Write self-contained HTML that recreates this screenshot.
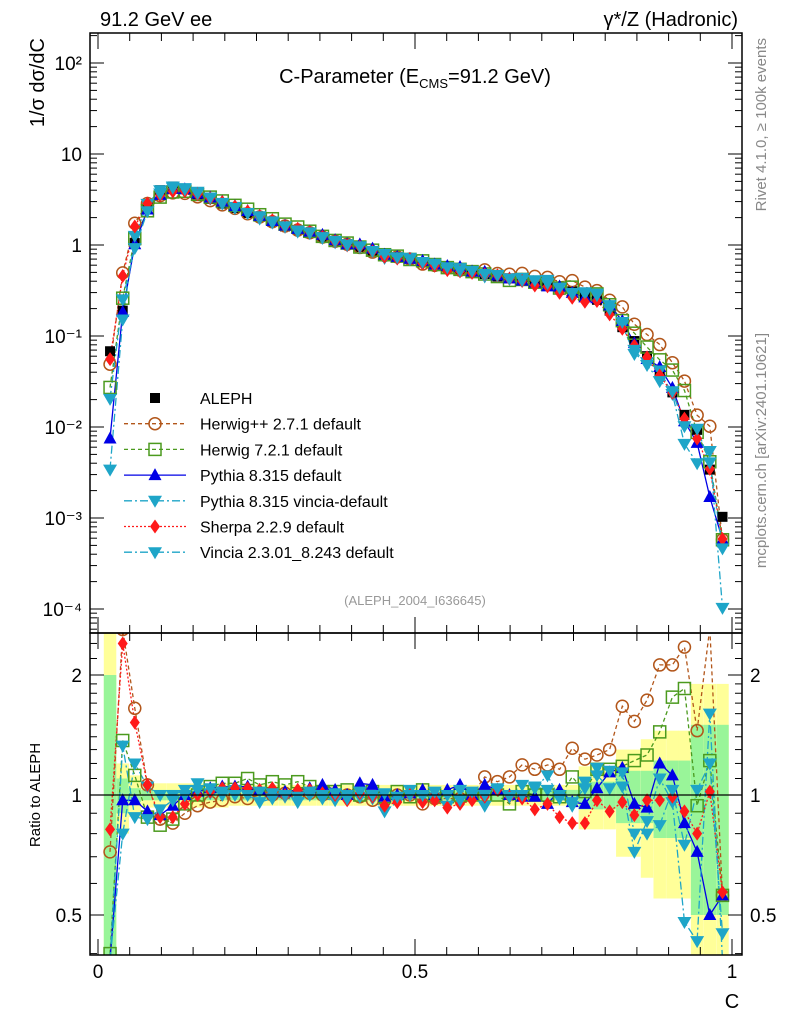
<!DOCTYPE html>
<html><head><meta charset="utf-8"><style>
html,body{margin:0;padding:0;background:#fff;width:786px;height:1024px;overflow:hidden}
svg{display:block;font-family:"Liberation Sans",sans-serif}
</style></head><body>
<svg id="chart" width="786" height="1024" viewBox="0 0 786 1024">
<defs>
<clipPath id="clipMain"><rect x="90" y="33" width="652" height="600"/></clipPath>
<clipPath id="clipRatio"><rect x="90" y="633" width="652" height="322"/></clipPath>
</defs>
<g id="bands" clip-path="url(#clipRatio)"></g>
<g id="ratioMarks" clip-path="url(#clipRatio)"></g>
<g id="mainMarks" clip-path="url(#clipMain)"></g>
<g id="axes"></g>
<text x="100" y="26" font-size="20">91.2 GeV ee</text>
<text x="738" y="26" font-size="20" text-anchor="end">γ*/Z (Hadronic)</text>
<text x="415" y="83" font-size="20" text-anchor="middle">C-Parameter (E<tspan font-size="13" dy="5">CMS</tspan><tspan dy="-5">=91.2 GeV)</tspan></text>
<text transform="translate(44,38) rotate(-90)" font-size="20" text-anchor="end">1/σ  dσ/dC</text>
<text transform="translate(40,795) rotate(-90)" font-size="15" text-anchor="middle">Ratio to ALEPH</text>
<text transform="translate(766,38) rotate(-90)" font-size="15" fill="#888" text-anchor="end">Rivet 4.1.0, ≥ 100k events</text>
<text transform="translate(766,333) rotate(-90)" font-size="15" fill="#888" text-anchor="end">mcplots.cern.ch [arXiv:2401.10621]</text>
<text x="415" y="605" font-size="13" fill="#999" text-anchor="middle">(ALEPH_2004_I636645)</text>
<text x="732" y="1008" font-size="20" text-anchor="middle">C</text>
<g id="legend"></g>
</svg>
<script>
const centers=[0.019,0.039,0.058,0.078,0.098,0.118,0.137,0.157,0.177,0.196,0.216,0.236,0.255,0.275,0.295,0.315,0.334,0.354,0.374,0.393,0.413,0.433,0.452,0.472,0.492,0.512,0.531,0.551,0.571,0.590,0.610,0.630,0.649,0.669,0.689,0.709,0.728,0.748,0.768,0.787,0.807,0.827,0.846,0.866,0.886,0.906,0.925,0.945,0.965,0.985];
const aleph=[0.068,0.19,1.05,2.7,4.0,4.4,4.1,3.6,3.2,2.85,2.55,2.25,2.03,1.8,1.6,1.46,1.35,1.22,1.1,1.02,0.95,0.86,0.79,0.74,0.7,0.65,0.61,0.57,0.54,0.51,0.48,0.45,0.43,0.41,0.39,0.37,0.34,0.31,0.28,0.25,0.19,0.125,0.088,0.06,0.038,0.024,0.0136,0.0093,0.0034,0.00103];
const totErr=[2.0,0.2,0.12,0.07,0.07,0.07,0.07,0.07,0.07,0.07,0.06,0.06,0.06,0.06,0.06,0.06,0.06,0.06,0.06,0.06,0.06,0.06,0.06,0.06,0.06,0.06,0.06,0.06,0.06,0.06,0.06,0.06,0.06,0.06,0.06,0.06,0.06,0.06,0.18,0.18,0.18,0.3,0.3,0.38,0.45,0.45,0.45,0.9,0.9,0.9];
const statErr=[1.0,0.1,0.04,0.03,0.03,0.03,0.03,0.03,0.03,0.03,0.03,0.03,0.03,0.03,0.03,0.03,0.03,0.03,0.03,0.03,0.03,0.03,0.03,0.03,0.03,0.03,0.03,0.03,0.03,0.03,0.03,0.03,0.03,0.03,0.03,0.03,0.03,0.03,0.08,0.08,0.08,0.15,0.15,0.15,0.22,0.22,0.22,0.5,0.5,0.5];
const rHpp=[0.72,2.6,1.65,1.06,0.87,0.85,0.9,0.94,0.96,0.97,0.99,0.98,1.0,1.0,1.01,1.0,1.01,1.0,1.0,1.0,0.99,0.97,0.97,1.0,1.0,0.95,0.98,0.98,0.98,1.0,1.11,1.08,1.11,1.19,1.16,1.19,1.16,1.31,1.23,1.26,1.30,1.67,1.53,1.73,2.12,2.12,2.35,1.45,3.0,0.56];
const rH7=[0.4,1.37,1.12,0.88,0.84,0.87,0.95,1.0,1.05,1.07,1.07,1.1,1.06,1.08,1.06,1.08,1.05,1.02,1.02,1.03,1.0,1.02,0.99,1.02,0.99,1.03,1.0,0.99,1.0,1.0,1.0,1.0,0.95,1.02,1.0,1.0,0.99,1.11,1.02,1.16,1.16,1.18,1.22,1.26,1.44,1.76,1.85,0.94,1.22,0.56];
const rPy=[0.11,0.97,0.97,0.91,0.89,0.94,1.0,1.02,1.04,1.05,1.05,1.05,1.03,1.02,1.02,1.03,1.04,1.06,1.03,1.0,1.07,1.06,0.99,1.0,1.01,1.03,1.0,1.03,1.06,1.0,1.06,1.03,1.0,0.99,0.99,0.95,1.03,0.96,0.95,1.04,1.14,1.17,0.95,0.93,1.2,1.12,0.85,0.72,0.5,0.56];
const rPv=[0.05,0.8,1.2,1.05,1.0,1.0,1.03,1.07,1.01,1.0,1.03,1.0,0.96,0.98,0.99,0.96,1.0,0.98,0.97,1.0,0.99,0.98,0.91,0.96,1.03,0.99,0.97,0.94,1.03,1.0,0.94,1.03,1.0,1.06,1.04,1.12,0.98,0.96,1.04,1.17,1.15,1.05,0.72,0.86,1.1,0.96,0.48,0.43,1.6,0.1];
const rSh=[0.82,2.4,1.52,1.06,0.88,0.88,0.95,1.0,1.02,1.04,1.04,1.04,1.03,1.04,1.0,1.03,1.03,1.01,1.0,0.97,1.01,0.99,0.94,0.96,1.0,0.96,0.97,0.93,0.95,0.97,0.99,1.03,0.99,0.98,0.92,0.95,0.88,0.85,0.85,0.97,0.91,0.96,0.89,0.97,0.97,0.99,0.91,0.8,1.02,0.57];
const rVin=[0.3,1.33,0.88,0.87,0.92,0.97,1.0,1.03,1.04,1.02,1.0,1.0,1.02,1.01,1.0,0.99,1.02,1.0,1.01,0.98,1.02,1.0,1.01,0.99,1.0,1.0,1.02,1.0,0.97,1.02,1.0,1.04,0.99,1.0,1.05,1.03,1.0,0.94,1.08,1.12,1.04,1.14,0.8,0.8,0.84,1.03,0.75,1.03,1.2,0.45];
const mainTicks=["10²","10","1","10⁻¹","10⁻²","10⁻³","10⁻⁴"];
const ratioTicks=["2","1","0.5"];
const xTicks=["0","0.5","1"];

const NS="http://www.w3.org/2000/svg";
const X=c=>98+c*634;
const Ym=v=>245-91*Math.log10(v);
const Yr=r=>795-398.6*Math.log10(r);
const clampM=y=>Math.max(28,Math.min(638,y));
const clampR=y=>Math.max(628,Math.min(960,y));
const binW=0.0197;
function mk(tag,attrs,parent){const e=document.createElementNS(NS,tag);for(const k in attrs)e.setAttribute(k,attrs[k]);parent.appendChild(e);return e;}
const bands=document.getElementById('bands'),rm=document.getElementById('ratioMarks'),mm=document.getElementById('mainMarks'),ax=document.getElementById('axes'),lg=document.getElementById('legend');

centers.forEach((c,i)=>{
  const x0=X(c-binW/2),w=X(c+binW/2)-x0;
  let y1=clampR(Yr(1+totErr[i])),y2=clampR(Yr(Math.max(0.01,1-totErr[i])));
  const b=mk('rect',{x:x0,y:y1,width:w,height:y2-y1,fill:'#ffff99'},bands);
  
  
  y1=clampR(Yr(1+statErr[i]));y2=clampR(Yr(Math.max(0.01,1-statErr[i])));
  const g=mk('rect',{x:x0,y:y1,width:w,height:y2-y1,fill:'#99f599'},bands);
  
  
});

function marker(type,x,y,col,parent){
  let e;
  if(type==='sq') e=mk('rect',{x:x-5,y:y-5,width:10,height:10,fill:'#000'},parent);
  else if(type==='circ') e=mk('circle',{cx:x,cy:y,r:6,fill:'none',stroke:col,'stroke-width':1.5},parent);
  else if(type==='osq') e=mk('rect',{x:x-6,y:y-6,width:12,height:12,fill:'none',stroke:col,'stroke-width':1.5},parent);
  else if(type==='up') e=mk('polygon',{points:`${x},${y-7} ${x-6.5},${y+5} ${x+6.5},${y+5}`,fill:col},parent);
  else if(type==='dn') e=mk('polygon',{points:`${x},${y+7} ${x-7},${y-5} ${x+7},${y-5}`,fill:col},parent);
  else if(type==='dia') e=mk('polygon',{points:`${x},${y-7} ${x-5},${y} ${x},${y+7} ${x+5},${y}`,fill:col},parent);
  return e;
}
const series=[
 {name:'Herwig++ 2.7.1 default',r:rHpp,col:'#b2561a',m:'circ',dash:'4,3',key:'herwigpp'},
 {name:'Herwig 7.2.1 default',r:rH7,col:'#4b9a1e',m:'osq',dash:'4,3',key:'herwig7'},
 {name:'Pythia 8.315 default',r:rPy,col:'#0000e6',m:'up',dash:'',key:'pythia'},
 {name:'Pythia 8.315 vincia-default',r:rPv,col:'#1ea5c8',m:'dn',dash:'8,3,2,3',key:'pythia-vincia'},
 {name:'Sherpa 2.2.9 default',r:rSh,col:'#ff1a1a',m:'dia',dash:'2,2',key:'sherpa'},
 {name:'Vincia 2.3.01_8.243 default',r:rVin,col:'#1ea5c8',m:'dn',dash:'8,3,2,3',key:'vincia'}
];
series.forEach(s=>{
  const ptsM=centers.map((c,i)=>X(c).toFixed(1)+','+clampM(Ym(aleph[i]*s.r[i])).toFixed(1)).join(' ');
  const lm=mk('polyline',{points:ptsM,fill:'none',stroke:s.col,'stroke-width':1.3,'stroke-dasharray':s.dash},mm);
  
  
  const ptsR=centers.map((c,i)=>X(c).toFixed(1)+','+clampR(Yr(s.r[i])).toFixed(1)).join(' ');
  const lr=mk('polyline',{points:ptsR,fill:'none',stroke:s.col,'stroke-width':1.3,'stroke-dasharray':s.dash},rm);
  
  
});
centers.forEach((c,i)=>{
  const e=marker('sq',X(c),Ym(aleph[i]),'#000',mm);
  
  
});
series.forEach(s=>{
  centers.forEach((c,i)=>{
    const ym=Ym(aleph[i]*s.r[i]);
    if(ym>28&&ym<638){
      const e=marker(s.m,X(c),ym,s.col,mm);
      
      
    }
    const yr=Yr(s.r[i]);
    if(yr>626&&yr<962){
      const f=marker(s.m,X(c),yr,s.col,rm);
      
      
    }
  });
});
const one=mk('line',{x1:90,x2:742,y1:Yr(1),y2:Yr(1),stroke:'#000','stroke-width':1.2},ax);



[[33,633],[633,955]].forEach(([t,b])=>{
  const f=mk('rect',{x:90,y:t,width:652,height:b-t,fill:'none',stroke:'#000','stroke-width':1.5},ax);
  
  
});
function tick(x1,y1,x2,y2){mk('line',{x1,y1,x2,y2,stroke:'#000','stroke-width':1},ax);}
for(let d=-5;d<=2;d++){
  for(let k=1;k<10;k++){
    const y=Ym(k*Math.pow(10,d));
    if(y<33||y>633)continue;
    const L=k===1?14:7;
    tick(90,y,90+L,y);tick(742,y,742-L,y);
  }
}
mainTicks.forEach((t,i)=>{
  const y=Ym(Math.pow(10,2-i));
  const e=mk('text',{x:82,y:y+7,'font-size':19,'text-anchor':'end'},ax);
  e.textContent=t;
  
  
});
[0.4,0.5,0.6,0.7,0.8,0.9,1,1.1,1.2,1.3,1.4,1.5,1.6,1.7,1.8,1.9,2,2.2,2.4].forEach(r=>{
  const y=Yr(r);const L=(r===0.5||r===1||r===2)?14:7;
  tick(90,y,90+L,y);tick(742,y,742-L,y);
});
ratioTicks.forEach(t=>{
  const y=Yr(parseFloat(t));
  const e=mk('text',{x:82,y:y+7,'font-size':19,'text-anchor':'end'},ax);
  e.textContent=t;
  
  
  const e2=mk('text',{x:750,y:y+7,'font-size':19},ax);
  e2.textContent=t;
  
  
});
for(let k=0;k<=20;k++){
  const c=k*0.05,x=X(c);const L=(k%10===0)?16:8;
  [33,633].forEach(y=>tick(x,y,x,y+L));
  [633,955].forEach(y=>tick(x,y,x,y-L));
}
xTicks.forEach(t=>{
  const e=mk('text',{x:X(parseFloat(t)),y:978,'font-size':19,'text-anchor':'middle'},ax);
  e.textContent=t;
  
  
});
const legY0=398,legDy=25.7;
const lgA=mk('g',{},lg);


marker('sq',155,legY0,'#000',lgA);
const ta=mk('text',{x:200,y:legY0+6,'font-size':16},lgA);ta.textContent='ALEPH';
series.forEach((s,i)=>{
  const y=legY0+legDy*(i+1);
  const g=mk('g',{},lg);
  
  
  mk('line',{x1:124,x2:186,y1:y,y2:y,stroke:s.col,'stroke-width':1.3,'stroke-dasharray':s.dash},g);
  marker(s.m,155,y,s.col,g);
  const t=mk('text',{x:200,y:y+6,'font-size':16},g);t.textContent=s.name;
});
</script>
</body></html>
